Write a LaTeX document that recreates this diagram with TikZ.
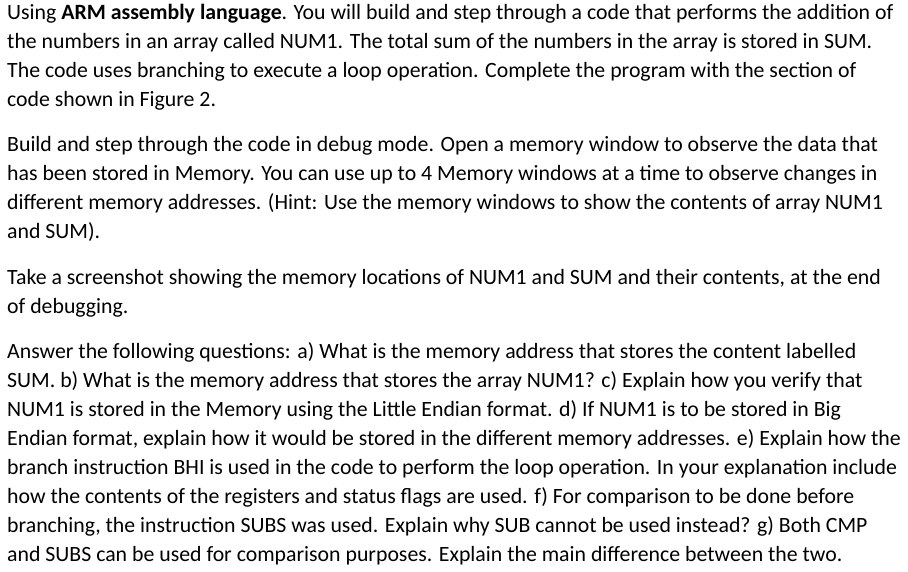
\documentclass[tikz,border=0pt]{standalone}
\usepackage{fontspec}
\setmainfont{Carlito}
\begin{document}
\begin{tikzpicture}[x=1pt,y=-1pt,ln/.style={anchor=base west,inner sep=0pt,font=\fontsize{21.8}{24}\selectfont}]
\useasboundingbox[fill=white] (0,0) rectangle (908,572);
\node[ln] (l1) at (7,20) {Using \textbf{ARM assembly language}. You will build and step through a code that performs the addition of};
\node[ln] (l2) at (7,49) {the numbers in an array called NUM1. The total sum of the numbers in the array is stored in SUM.};
\node[ln] (l3) at (7,78) {The code uses branching to execute a loop operation. Complete the program with the section of};
\node[ln] (l4) at (7,107) {code shown in Figure 2.};
\node[ln] (l5) at (7,152) {Build and step through the code in debug mode. Open a memory window to observe the data that};
\node[ln] (l6) at (7,181) {has been stored in Memory. You can use up to 4 Memory windows at a time to observe changes in};
\node[ln] (l7) at (7,210) {different memory addresses. (Hint: Use the memory windows to show the contents of array NUM1};
\node[ln] (l8) at (7,239) {and SUM).};
\node[ln] (l9) at (7,284) {Take a screenshot showing the memory locations of NUM1 and SUM and their contents, at the end};
\node[ln] (l10) at (7,313) {of debugging.};
\node[ln] (l11) at (7,358) {Answer the following questions: a) What is the memory address that stores the content labelled};
\node[ln] (l12) at (7,387) {SUM. b) What is the memory address that stores the array NUM1? c) Explain how you verify that};
\node[ln] (l13) at (7,416) {NUM1 is stored in the Memory using the Little Endian format. d) If NUM1 is to be stored in Big};
\node[ln] (l14) at (7,445) {Endian format, explain how it would be stored in the different memory addresses. e) Explain how the};
\node[ln] (l15) at (7,474) {branch instruction BHI is used in the code to perform the loop operation. In your explanation include};
\node[ln] (l16) at (7,503) {how the contents of the registers and status flags are used. f) For comparison to be done before};
\node[ln] (l17) at (7,532) {branching, the instruction SUBS was used. Explain why SUB cannot be used instead? g) Both CMP};
\node[ln] (l18) at (7,561) {and SUBS can be used for comparison purposes. Explain the main difference between the two.};
\end{tikzpicture}
\end{document}
